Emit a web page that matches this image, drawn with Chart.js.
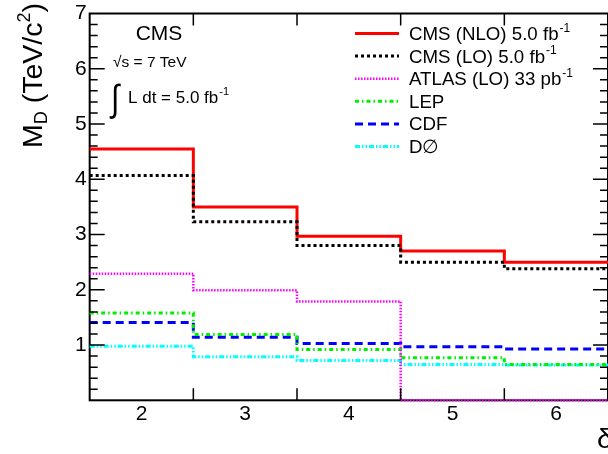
<!DOCTYPE html>
<html>
<head>
<meta charset="utf-8">
<script src="https://cdn.jsdelivr.net/npm/chart.js@4.4.1/dist/chart.umd.min.js"></script>
<style>
  html, body { margin: 0; padding: 0; background: #fff; }
  #wrap { width: 608px; height: 454px; }
</style>
</head>
<body>
<div id="wrap"><canvas id="limits"></canvas></div>
<script>
// number of extra dimensions and the M_D lower limits (TeV/c^2) per experiment
const deltas = [2, 3, 4, 5, 6];
const cmsNLO = [4.55, 3.50, 2.97, 2.70, 2.50];
const cmsLO = [4.07, 3.23, 2.80, 2.50, 2.38];
const atlasLO = [2.29, 1.99, 1.79, 0, 0];
const lep = [1.58, 1.19, 0.92, 0.77, 0.65];
const cdf = [1.41, 1.14, 1.03, 0.97, 0.93];
const d0 = [0.98, 0.79, 0.72, 0.65, 0.64];
const yTicks = [1, 2, 3, 4, 5, 6, 7];

const FONT = '"Liberation Sans", Arial, sans-serif';

// histogram-style steps: one point per bin low edge, plus the last high edge
const steps = vals => {
  const pts = deltas.map((d, i) => ({ x: d - 0.5, y: vals[i] }));
  pts.push({ x: deltas[deltas.length - 1] + 0.5, y: vals[vals.length - 1] });
  return pts;
};

const series = [
  { label: 'CMS (NLO) 5.0 fb', sup: '-1', data: cmsNLO, color: '#ff0000', width: 3, dash: [] },
  { label: 'CMS (LO) 5.0 fb', sup: '-1', data: cmsLO, color: '#000000', width: 3, dash: [3, 3] },
  { label: 'ATLAS (LO) 33 pb', sup: '-1', data: atlasLO, color: '#ff00ff', width: 2.5, dash: [1.5, 1.5] },
  { label: 'LEP', sup: '', data: lep, color: '#00ee00', width: 3, dash: [4, 3, 1.5, 3] },
  { label: 'CDF', sup: '', data: cdf, color: '#0000ff', width: 3, dash: [8, 5] },
  { label: 'D\u2205', sup: '', data: d0, color: '#00ffff', width: 3, dash: [5, 2, 1.5, 2, 1.5, 2] }
];

const textWithSup = (ctx, x, y, txt, sup, size) => {
  ctx.font = size + 'px ' + FONT;
  ctx.fillText(txt, x, y);
  if (!sup) return;
  const w = ctx.measureText(txt).width;
  ctx.font = Math.round(size * 0.62) + 'px ' + FONT;
  ctx.fillText(sup, x + w + 1, y - size * 0.45);
};

const decorations = {
  id: 'decorations',
  beforeDatasetsDraw(chart) {
    // frame first, so a limit sitting on zero stays visible over it
    const { ctx, chartArea: a } = chart;
    ctx.save();
    ctx.strokeStyle = '#000';
    ctx.lineWidth = 2;
    ctx.strokeRect(a.left, a.top, a.right - a.left, a.bottom - a.top);
    ctx.restore();
  },
  afterDatasetsDraw(chart) {
    const { ctx, chartArea: a, scales: { x, y } } = chart;
    ctx.save();

    // ticks pointing inwards
    ctx.strokeStyle = '#000';
    ctx.lineWidth = 1.5;
    ctx.beginPath();
    deltas.slice(1).forEach(d => {
      const px = x.getPixelForValue(d - 0.5);
      ctx.moveTo(px, a.bottom); ctx.lineTo(px, a.bottom - 12);
      ctx.moveTo(px, a.top); ctx.lineTo(px, a.top + 12);
    });
    for (let k = 1; k < 35; k++) {
      const py = y.getPixelForValue(k / 5);
      const len = k % 5 === 0 ? 15 : 8;
      ctx.moveTo(a.left, py); ctx.lineTo(a.left + len, py);
      ctx.moveTo(a.right, py); ctx.lineTo(a.right - len, py);
    }
    ctx.stroke();

    // legend
    ctx.fillStyle = '#000';
    ctx.textBaseline = 'alphabetic';
    series.forEach((s, i) => {
      const ry = 33.5 + i * 22.6;
      ctx.strokeStyle = s.color;
      ctx.lineWidth = s.width;
      ctx.setLineDash(s.dash);
      ctx.beginPath();
      ctx.moveTo(355, ry); ctx.lineTo(399, ry);
      ctx.stroke();
      ctx.setLineDash([]);
      textWithSup(ctx, 409, ry + 6.5, s.label, s.sup, 18.7);
    });

    // CMS labels
    ctx.textAlign = 'center';
    ctx.font = '21px ' + FONT;
    ctx.fillText('CMS', 159, 40);
    ctx.textAlign = 'left';
    ctx.font = '15.5px ' + FONT;
    ctx.fillText('\u221As = 7 TeV', 113, 67);
    ctx.font = '30px ' + FONT;
    ctx.save();
    ctx.scale(1, 1.25);
    ctx.fillText('\u222B', 111, 108 / 1.25 + 2);
    ctx.restore();
    textWithSup(ctx, 128, 103, 'L dt = 5.0 fb', '-1', 17);

    // y title, rotated
    ctx.save();
    ctx.translate(42, 148);
    ctx.rotate(-Math.PI / 2);
    let cx = 0;
    const piece = (t, size, dy) => {
      ctx.font = size + 'px ' + FONT;
      ctx.fillText(t, cx, dy);
      cx += ctx.measureText(t).width;
    };
    piece('M', 28.5, 0);
    piece('D', 18, 5);
    piece(' (TeV/c', 28.5, 0);
    piece('2', 18, -12);
    piece(')', 28.5, 0);
    ctx.restore();

    // x title, cut by the right edge like the original
    ctx.font = '28px ' + FONT;
    ctx.fillText('\u03B4', 597, 448);

    ctx.restore();
  }
};

new Chart(document.getElementById('limits'), {
  type: 'line',
  data: {
    datasets: series.map((s, i) => ({
      label: s.label,
      data: steps(s.data),
      borderColor: s.color,
      borderWidth: s.width,
      borderDash: s.dash,
      stepped: 'before',
      pointRadius: 0,
      fill: false,
      clip: 3,
      order: i === 1 ? 0 : i + 1
    }))
  },
  options: {
    responsive: true,
    maintainAspectRatio: false,
    animation: false,
    layout: { padding: { left: 72, top: 12, right: -2, bottom: 26.5 } },
    plugins: { legend: { display: false }, tooltip: { enabled: false } },
    scales: {
      x: {
        type: 'linear',
        min: 1.5,
        max: 6.5,
        grid: { display: false, drawTicks: false },
        border: { display: false },
        afterBuildTicks: scale => { scale.ticks = deltas.map(v => ({ value: v })); },
        ticks: {
          autoSkip: false,
          maxRotation: 0,
          padding: 1,
          color: '#000',
          font: { family: FONT, size: 21 }
        }
      },
      y: {
        min: 0,
        max: 7,
        grid: { display: false, drawTicks: false },
        border: { display: false },
        afterBuildTicks: scale => { scale.ticks = yTicks.map(v => ({ value: v })); },
        ticks: {
          padding: 3,
          color: '#000',
          font: { family: FONT, size: 21, lineHeight: 1 }
        }
      }
    }
  },
  plugins: [decorations]
});
</script>
</body>
</html>
